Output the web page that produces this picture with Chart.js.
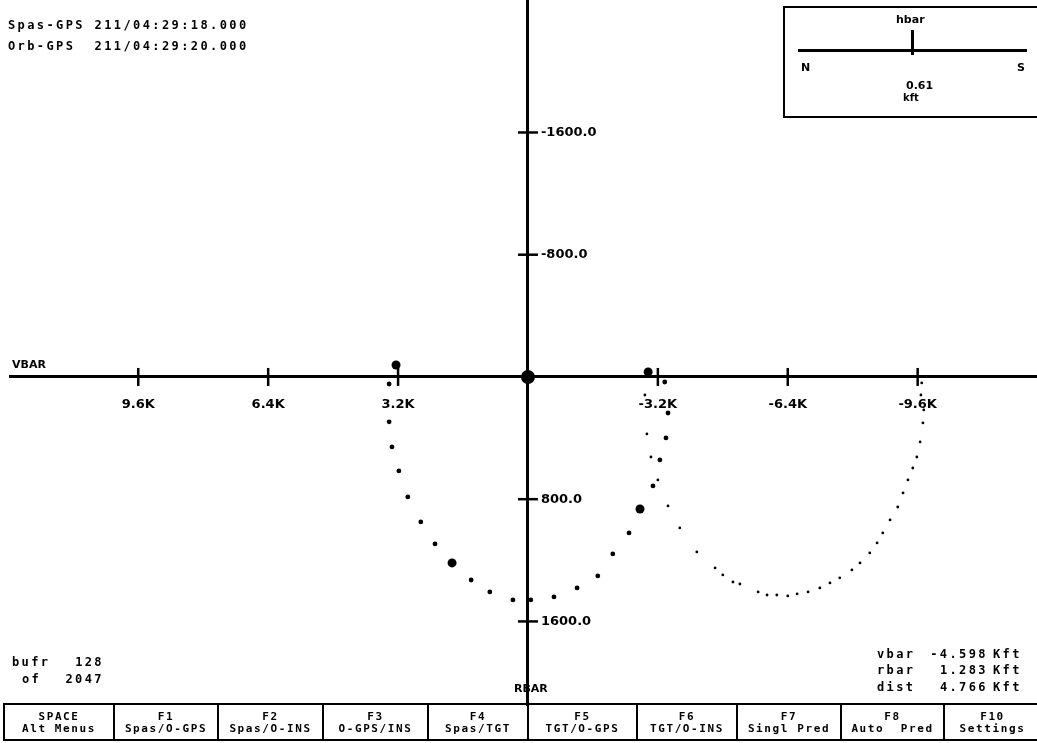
<!DOCTYPE html>
<html>
<head>
<meta charset="utf-8">
<script src="https://cdn.jsdelivr.net/npm/chart.js@4.4.1/dist/chart.umd.min.js"></script>
<style>
html,body{margin:0;padding:0;background:#fff;width:1037px;height:743px;overflow:hidden;}
#wrap{position:absolute;left:0;top:0;width:1037px;height:743px;}
.t{position:absolute;font-family:"DejaVu Sans Mono",monospace;font-weight:bold;font-size:12px;letter-spacing:2.4px;color:#000;white-space:pre;line-height:1;}
.s{position:absolute;font-family:"DejaVu Sans",sans-serif;font-weight:bold;font-size:11px;color:#000;white-space:pre;line-height:1;}
#hbox{position:absolute;left:783px;top:6px;width:260px;height:112px;border:2px solid #000;box-sizing:border-box;}
.cell{position:absolute;top:703px;height:38px;border:2px solid #000;box-sizing:border-box;text-align:center;font-family:"DejaVu Sans Mono",monospace;font-weight:bold;font-size:11px;letter-spacing:1.6px;line-height:12px;padding-top:6px;white-space:pre;}
</style>
</head>
<body>
<div id="wrap"><canvas id="c"></canvas></div>

<div class="t" style="left:8px;top:19px;">Spas-GPS 211/04:29:18.000</div>
<div class="t" style="left:8px;top:40px;">Orb-GPS  211/04:29:20.000</div>

<div id="hbox"></div>
<div class="s" style="left:896px;top:14px;">hbar</div>
<div style="position:absolute;left:798px;top:49px;width:229px;height:3px;background:#000;"></div>
<div style="position:absolute;left:911px;top:30px;width:3px;height:25px;background:#000;"></div>
<div class="s" style="left:801px;top:62px;">N</div>
<div class="s" style="left:1017px;top:62px;">S</div>
<div class="s" style="left:906px;top:80px;">0.61</div>
<div class="s" style="left:903px;top:93px;font-size:10px;">kft</div>

<div class="s" style="left:12px;top:359px;">VBAR</div>
<div class="s" style="left:514px;top:683px;">RBAR</div>

<div class="t" style="left:12px;top:656px;">bufr</div>
<div class="t" style="left:50px;top:656px;width:54px;text-align:right;">128</div>
<div class="t" style="left:22px;top:673px;">of</div>
<div class="t" style="left:50px;top:673px;width:54px;text-align:right;">2047</div>

<div class="t" style="left:877px;top:648px;">vbar</div>
<div class="t" style="left:877px;top:664px;">rbar</div>
<div class="t" style="left:877px;top:681px;">dist</div>
<div class="t" style="left:930px;top:648px;width:58px;text-align:right;">-4.598</div>
<div class="t" style="left:930px;top:664px;width:58px;text-align:right;">1.283</div>
<div class="t" style="left:930px;top:681px;width:58px;text-align:right;">4.766</div>
<div class="t" style="left:993px;top:648px;">Kft</div>
<div class="t" style="left:993px;top:664px;">Kft</div>
<div class="t" style="left:993px;top:681px;">Kft</div>

<div id="menu"></div>

<script>
// ---- data (x in Kft along VBAR, y in ft along RBAR) ----
const leftArcX = [3.42, 3.42, 3.35, 3.18, 2.96, 2.64, 2.29, 1.87, 1.40, 0.94, 0.37, -0.07, -0.64, -1.21, -1.72, -2.09, -2.49, -2.76, -3.08, -3.25, -3.40, -3.45, -3.37];
const leftArcY = [46, 294, 458, 615, 785, 949, 1093, 1217, 1329, 1407, 1459, 1459, 1440, 1381, 1302, 1158, 1021, 864, 713, 543, 399, 236, 33];

const rightArcX = [-2.88, -2.93, -3.03, -3.20, -3.45, -3.74, -4.16, -4.61, -4.80, -5.05, -5.22, -5.67, -5.89, -6.13, -6.40, -6.63, -6.90, -7.19, -7.44, -7.68, -7.98, -8.18, -8.42, -8.60, -8.74, -8.92, -9.11, -9.24, -9.36, -9.48, -9.58, -9.66, -9.73, -9.75, -9.68, -9.70];
const rightArcY = [118, 373, 524, 674, 844, 988, 1145, 1250, 1296, 1342, 1355, 1407, 1427, 1427, 1433, 1420, 1407, 1381, 1348, 1315, 1263, 1217, 1152, 1086, 1021, 936, 851, 759, 674, 596, 524, 425, 301, 216, 118, 39];

const markX = [1.87, -2.76, -2.96, 3.25];
const markY = [1217, 864, -33, -78];

const originX = [0];
const originY = [0];

const xTickValues = [9.6, 6.4, 3.2, -3.2, -6.4, -9.6];
const xTickLabels = ['9.6K', '6.4K', '3.2K', '-3.2K', '-6.4K', '-9.6K'];
const yTickValues = [-1600, -800, 800, 1600];
const yTickLabels = ['-1600.0', '-800.0', '800.0', '1600.0'];

const menuTop = ['SPACE', 'F1', 'F2', 'F3', 'F4', 'F5', 'F6', 'F7', 'F8', 'F10'];
const menuBottom = ['Alt Menus', 'Spas/O-GPS', 'Spas/O-INS', 'O-GPS/INS', 'Spas/TGT', 'TGT/O-GPS', 'TGT/O-INS', 'Singl Pred', 'Auto  Pred', 'Settings'];

// ---- menu bar ----
const edges = [3, 113, 217, 322, 427, 527, 636, 736, 840, 943, 1040];
const menu = document.getElementById('menu');
menuTop.forEach((t, i) => {
  const d = document.createElement('div');
  d.className = 'cell';
  d.style.left = edges[i] + 'px';
  d.style.width = (edges[i + 1] - edges[i] + 2) + 'px';
  d.textContent = t + '\n' + menuBottom[i];
  menu.appendChild(d);
});

const pts = (xs, ys) => xs.map((v, i) => ({x: v, y: ys[i]}));

const axisDecor = {
  id: 'axisDecor',
  afterDraw(chart) {
    const {ctx, scales: {x, y}} = chart;
    const x0 = x.getPixelForValue(0), y0 = y.getPixelForValue(0);
    ctx.save();
    ctx.strokeStyle = '#000';
    ctx.lineWidth = 2.5;
    x.ticks.forEach(t => {
      const px = x.getPixelForValue(t.value);
      ctx.beginPath(); ctx.moveTo(px, y0 - 9); ctx.lineTo(px, y0 + 9); ctx.stroke();
    });
    y.ticks.forEach(t => {
      const py = y.getPixelForValue(t.value);
      ctx.beginPath(); ctx.moveTo(x0 - 10, py); ctx.lineTo(x0 + 10, py); ctx.stroke();
    });
    ctx.font = 'bold 13px "DejaVu Sans"';
    ctx.textAlign = 'left';
    ctx.textBaseline = 'middle';
    ctx.fillStyle = '#000';
    y.ticks.forEach(t => ctx.fillText(t.label, x0 + 13, y.getPixelForValue(t.value)));
    ctx.restore();
  }
};

new Chart(document.getElementById('c'), {
  type: 'scatter',
  data: {
    datasets: [
      {label: 'left', data: pts(leftArcX, leftArcY), backgroundColor: '#000', borderColor: '#000', pointRadius: 2.4, borderWidth: 0},
      {label: 'right', data: pts(rightArcX, rightArcY), backgroundColor: '#000', borderColor: '#000', pointRadius: 1.4, borderWidth: 0},
      {label: 'marks', data: pts(markX, markY), backgroundColor: '#000', borderColor: '#000', pointRadius: 4.5, borderWidth: 0},
      {label: 'origin', data: pts(originX, originY), backgroundColor: '#000', borderColor: '#000', pointRadius: 7, borderWidth: 0}
    ]
  },
  options: {
    responsive: true,
    maintainAspectRatio: false,
    animation: false,
    events: [],
    layout: {autoPadding: false, padding: {left: 10, right: 0, top: 0, bottom: 38}},
    plugins: {legend: {display: false}, tooltip: {enabled: false}},
    scales: {
      x: {
        type: 'linear',
        position: {y: 0},
        reverse: true,
        min: -12.54,
        max: 12.76,
        afterBuildTicks: s => { s.ticks = xTickValues.map(v => ({value: v})); },
        ticks: {
          callback: v => xTickLabels[xTickValues.indexOf(v)],
          font: {family: 'DejaVu Sans', weight: 'bold', size: 13},
          color: '#000',
          padding: 20,
          maxRotation: 0,
          autoSkip: false
        },
        grid: {display: false, drawOnChartArea: false, drawTicks: false},
        border: {display: true, color: '#000', width: 3}
      },
      y: {
        type: 'linear',
        position: {x: 0},
        reverse: true,
        min: -2467,
        max: 2147,
        afterBuildTicks: s => { s.ticks = yTickValues.map(v => ({value: v})); },
        ticks: {
          display: false,
          callback: v => yTickLabels[yTickValues.indexOf(v)]
        },
        grid: {display: false, drawOnChartArea: false, drawTicks: false},
        border: {display: true, color: '#000', width: 3}
      }
    }
  },
  plugins: [axisDecor]
});
</script>
</body>
</html>
